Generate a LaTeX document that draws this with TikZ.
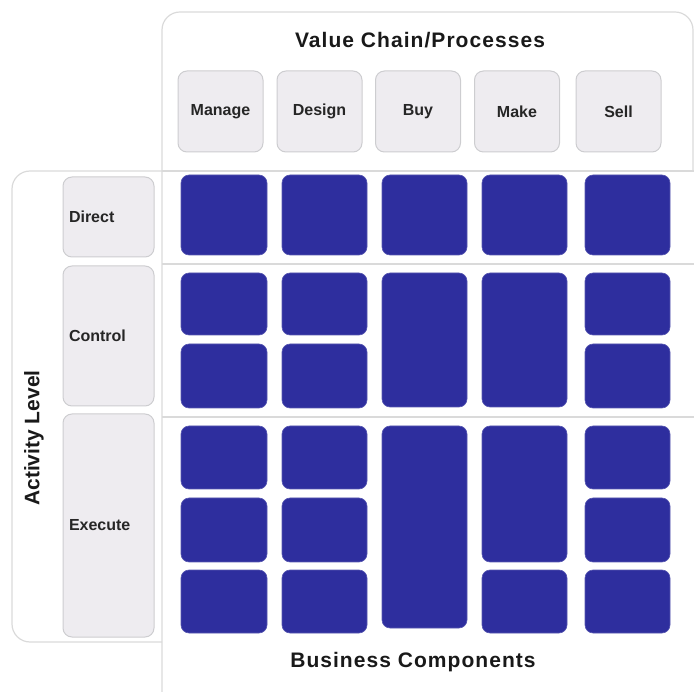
\documentclass[tikz,border=0pt]{standalone}
\usepackage{fontspec}
\setmainfont{Liberation Sans}
\newfontfamily\headfont[LetterSpace=5]{Liberation Sans}
\definecolor{compblue}{RGB}{46,46,158}
\definecolor{lblgray}{RGB}{238,236,240}
\definecolor{lbledge}{RGB}{205,205,208}
\definecolor{panelline}{RGB}{218,218,218}

\begin{document}
\begin{tikzpicture}[x=1pt, y=-1pt,
  panel/.style={draw=panelline, line width=1.2pt},
  lbl/.style={draw=lbledge, fill=lblgray, line width=1pt, rounded corners=9pt,
    font=\fontsize{16}{18}\selectfont\bfseries, text=black!85},
  sidelbl/.style={lbl, minimum width=91pt, inner xsep=6pt, text width=79pt, align=left},
  comp/.style={fill=compblue, draw=compblue!80!white, line width=0.6pt, rounded corners=8pt},
  headtext/.style={font=\headfont\fontsize{21}{24}\selectfont\bfseries, text=black!90}]
\useasboundingbox (0,0) rectangle (694,692);

% 外框与分隔线
\draw[panel, rounded corners=18pt] (162,692) -- (162,12) -- (693,12) -- (693,171);
\draw[panel, rounded corners=18pt] (162,171) -- (12,171) -- (12,642) -- (162,642);
\draw[panel] (162,171) -- (694,171);
\draw[panel] (162,264) -- (694,264);
\draw[panel] (162,417) -- (694,417);

% 标题
\node[headtext] (valuechain) at (420,40) {Value Chain/Processes};
\node[headtext] (components) at (413,662) {Business Components};
\node[font=\fontsize{21}{24}\selectfont\bfseries, text=black!90, rotate=90] (activity) at (34,438) {Activity Level};

% 流程
\node[lbl, minimum width=85pt, minimum height=81pt] (manage) at (220.5,111.5) {Manage};
\node[lbl, minimum width=85pt, minimum height=81pt] (design) at (319.5,111.5) {Design};
\node[lbl, minimum width=85pt, minimum height=81pt] (buy) at (418,111.5) {Buy};
\node[lbl, minimum width=85pt, minimum height=81pt] (make) at (517,111.5) {Make};
\node[lbl, minimum width=85pt, minimum height=81pt] (sell) at (618.5,111.5) {Sell};

% 层级
\node[sidelbl, minimum height=80pt] (direct) at (108.5,217) {Direct};
\node[sidelbl, minimum height=140pt] (control) at (108.5,336) {Control};
\node[sidelbl, minimum height=223pt] (execute) at (108.5,525.5) {Execute};

% 业务组件
\foreach \xa/\xb in {181/267,282/367,382/467,482/567,585/670}
  \draw[comp] (\xa,175) rectangle (\xb,255);
\foreach \xa/\xb in {181/267,282/367,585/670} {
  \draw[comp] (\xa,273) rectangle (\xb,335);
  \draw[comp] (\xa,344) rectangle (\xb,408);
  \draw[comp] (\xa,426) rectangle (\xb,489);
  \draw[comp] (\xa,498) rectangle (\xb,562);
  \draw[comp] (\xa,570) rectangle (\xb,633);
}
\draw[comp] (382,273) rectangle (467,407);
\draw[comp] (482,273) rectangle (567,407);
\draw[comp] (382,426) rectangle (467,628);
\draw[comp] (482,426) rectangle (567,562);
\draw[comp] (482,570) rectangle (567,633);
\end{tikzpicture}
\end{document}
